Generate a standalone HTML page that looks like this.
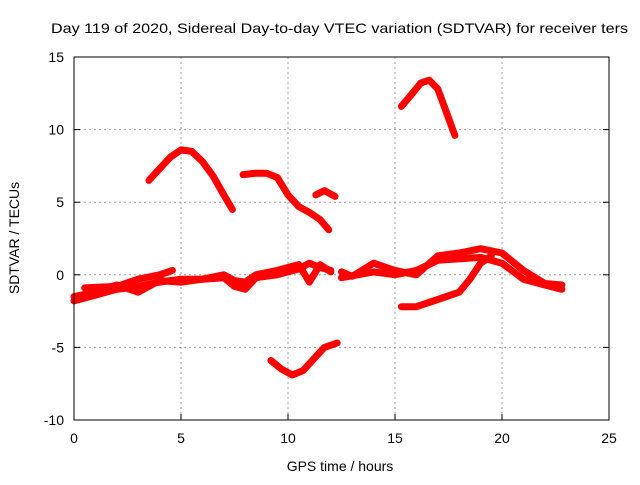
<!DOCTYPE html>
<html><head><meta charset="utf-8"><style>
body{margin:0;background:#fff;}
text{font-family:"Liberation Sans",Arial,sans-serif;font-size:14px;fill:#000;}
</style></head><body>
<svg id="chart" width="640" height="480" xmlns="http://www.w3.org/2000/svg">
<rect width="640" height="480" fill="#fff"/>
<g id="grid"></g><g id="series"></g><g id="axes"></g>
</svg>
<script>
const xTicks=[0,5,10,15,20,25];
const yTicks=[-10,-5,0,5,10,15];
const s1x=[3.5,4,4.5,5,5.5,6,6.5,7,7.4], s1y=[6.5,7.3,8.1,8.6,8.5,7.8,6.8,5.5,4.5];
const s2x=[7.9,8.5,9,9.5,10,10.5,11,11.5,11.9], s2y=[6.9,7.0,7.0,6.7,5.5,4.7,4.3,3.8,3.1];
const s3x=[11.3,11.7,12.2], s3y=[5.5,5.8,5.4];
const s4x=[15.3,15.7,16.2,16.6,17,17.5,17.8], s4y=[11.6,12.3,13.2,13.4,12.8,10.8,9.6];
const s5x=[9.2,9.7,10.2,10.7,11.2,11.7,12.3], s5y=[-5.9,-6.5,-6.9,-6.6,-5.8,-5.0,-4.7];
const s6x=[0,1,2,3,4,5,6,7,7.5,8,8.5,9.5,10.5,11,11.5,12], s6y=[-1.8,-1.4,-1.0,-0.8,-0.5,-0.3,-0.3,-0.2,-0.8,-1.0,-0.2,0.0,0.4,0.8,0.5,0.3];
const s7x=[0,1,2,3,4,5,6,7,7.5,8,8.5,9.5,10.5,11,11.5,12], s7y=[-1.5,-1.2,-0.7,-1.2,-0.4,-0.5,-0.3,0.0,-0.4,-0.5,0.0,0.3,0.7,-0.5,0.7,0.2];
const s8x=[0.5,2,3,4,4.6], s8y=[-0.9,-0.8,-0.3,0.0,0.3];
const s9x=[12.5,13,14,15,16,17,18,19,20,21,22,22.8], s9y=[0.2,-0.1,0.8,0.3,0.0,1.3,1.5,1.8,1.5,0.3,-0.6,-0.7];
const s10x=[12.5,14,15,16,17,19,20,21,22,22.8], s10y=[-0.2,0.2,0.0,0.3,1.0,1.2,0.8,-0.3,-0.7,-1.0];
const s11x=[15.3,16,17,18,18.5,19,19.5], s11y=[-2.2,-2.2,-1.7,-1.2,-0.3,0.8,1.3];
const seriesX=[s1x,s2x,s3x,s4x,s5x,s6x,s7x,s8x,s9x,s10x,s11x];
const seriesY=[s1y,s2y,s3y,s4y,s5y,s6y,s7y,s8y,s9y,s10y,s11y];

const L=74,R=609,T=57,B=420;
const X=v=>L+(v-0)/(25-0)*(R-L);
const Y=v=>B-(v+10)/(25)*(B-T);
const NS='http://www.w3.org/2000/svg';
function mk(tag,attrs,parent){const e=document.createElementNS(NS,tag);for(const k in attrs)e.setAttribute(k,attrs[k]);parent.appendChild(e);return e;}
const grid=document.getElementById('grid'),ser=document.getElementById('series'),ax=document.getElementById('axes');
xTicks.forEach(t=>{
  if(t>0&&t<25){const g=mk('line',{x1:X(t),x2:X(t),y1:T,y2:B,stroke:'#a0a0a0','stroke-dasharray':'2,3'},grid);
  
  }
  const tl=mk('line',{x1:X(t),x2:X(t),y1:B,y2:B-6,stroke:'#000'},ax);
  
  
  const tx=mk('text',{x:X(t),y:B+23,'text-anchor':'middle'},ax);tx.textContent=t;
  
  
});
yTicks.forEach(t=>{
  if(t>-10&&t<15){const g=mk('line',{x1:L,x2:R,y1:Y(t),y2:Y(t),stroke:'#a0a0a0','stroke-dasharray':'2,3'},grid);
  
  }
  const tl=mk('line',{x1:L,x2:L+6,y1:Y(t),y2:Y(t),stroke:'#000'},ax);
  
  
  const tr=mk('line',{x1:R,x2:R-6,y1:Y(t),y2:Y(t),stroke:'#000'},ax);
  
  
  const tx=mk('text',{x:L-10,y:Y(t)+5,'text-anchor':'end'},ax);tx.textContent=t;
  
  
});
const fr=mk('rect',{x:L,y:T,width:R-L,height:B-T,fill:'none',stroke:'#000'},ax);


seriesX.forEach((xs,i)=>{
  const pts=xs.map((x,j)=>X(x).toFixed(1)+','+Y(seriesY[i][j]).toFixed(1)).join(' ');
  const p=mk('polyline',{points:pts,fill:'none',stroke:'#f00','stroke-width':7,'stroke-linejoin':'round','stroke-linecap':'round'},ser);
  
  
});
let t1=mk('text',{x:51,y:33,textLength:577,lengthAdjust:'spacingAndGlyphs'},ax);t1.textContent='Day 119 of 2020, Sidereal Day-to-day VTEC variation (SDTVAR) for receiver ters';


let t2=mk('text',{x:340,y:471,'text-anchor':'middle'},ax);t2.textContent='GPS time / hours';


let t3=mk('text',{x:19,y:238,'text-anchor':'middle',transform:'rotate(-90 19 238)'},ax);t3.textContent='SDTVAR / TECUs';


</script>
</body></html>
